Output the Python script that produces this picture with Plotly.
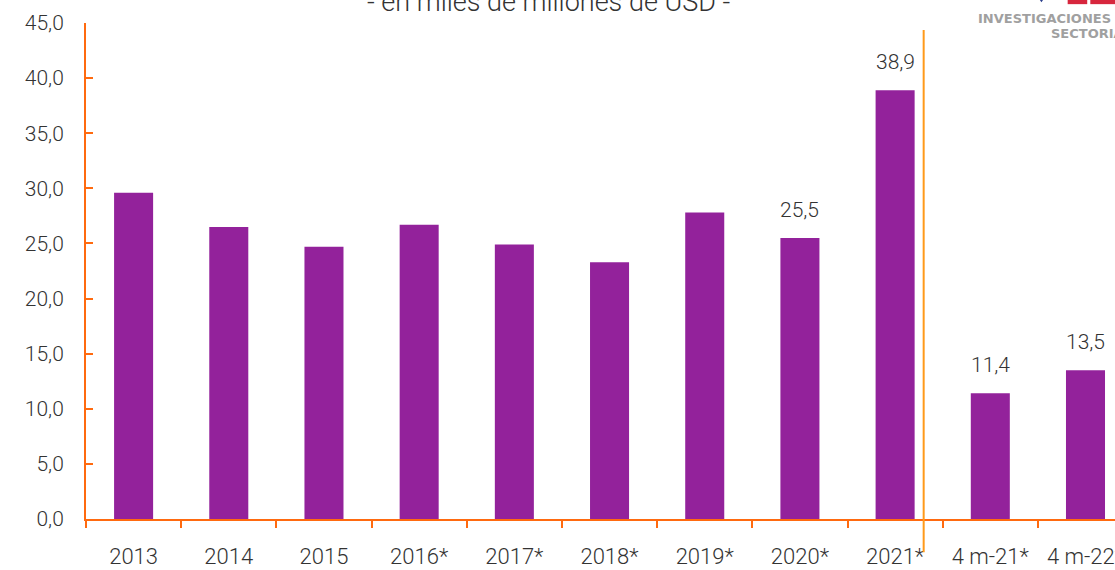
import plotly.graph_objects as go

categories = ["2013", "2014", "2015", "2016*", "2017*", "2018*", "2019*", "2020*", "2021*", "4 m-21*", "4 m-22*"]
values = [29.6, 26.5, 24.7, 26.7, 24.9, 23.3, 27.8, 25.5, 38.9, 11.4, 13.5]
labels = ["", "", "", "", "", "", "", "25,5", "38,9", "11,4", "13,5"]
y_ticks = [0, 5, 10, 15, 20, 25, 30, 35, 40, 45]
title_text = "- en miles de millones de USD -"

BAR = "#93229B"
AXIS = "#FF6A0F"
VLINE = "#FF9A1A"
FONT = "Roboto"
TXT = "#333333"

fig = go.Figure()
fig.add_trace(go.Bar(
    x=list(range(len(categories))), y=values,
    marker=dict(color=BAR, line=dict(width=0)),
    width=0.41, hoverinfo="skip",
))

for i, (v, t) in enumerate(zip(values, labels)):
    if t:
        fig.add_annotation(x=i, y=v, text=t, showarrow=False, yanchor="middle",
                           yshift=28, font=dict(family=FONT, size=21, color=TXT, weight=300))

fig.add_shape(type="line", xref="x", yref="paper", x0=8.3, x1=8.3, y0=-0.067, y1=0.986,
              line=dict(color=VLINE, width=2))

# title (cut at top in reference)
fig.add_annotation(xref="paper", yref="paper", x=0.449, y=1, xanchor="center", yanchor="bottom",
                   yshift=3, text=title_text, showarrow=False,
                   font=dict(family=FONT, size=27, color=TXT, weight=300))

# logo (partially cut)
fig.add_annotation(xref="paper", yref="paper", x=0.998, y=1.010, xanchor="right", yanchor="middle",
                   text="<b>INVESTIGACIONES</b>", showarrow=False,
                   font=dict(family="DejaVu Sans", size=13, color="#A0A0A0"))
fig.add_annotation(xref="paper", yref="paper", x=0.936, y=0.978, xanchor="left", yanchor="middle",
                   text="<b>SECTORIALES</b>", showarrow=False,
                   font=dict(family="DejaVu Sans", size=13, color="#A0A0A0"))
fig.add_shape(type="rect", xref="paper", yref="paper", x0=0.954, x1=0.973, y0=1.038, y1=1.06,
              fillcolor="#D7263D", line=dict(width=0))
fig.add_shape(type="rect", xref="paper", yref="paper", x0=0.976, x1=1.0, y0=1.038, y1=1.06,
              fillcolor="#D7263D", line=dict(width=0))
fig.add_shape(type="path", xref="paper", yref="paper",
              path="M 0.925 1.052 L 0.9285 1.042 L 0.932 1.052 Z",
              fillcolor="#2B3F8C", line=dict(width=0))

fig.update_layout(
    width=1115, height=570,
    margin=dict(l=86, r=0, t=23, b=51, autoexpand=False),
    plot_bgcolor="white", paper_bgcolor="white",
    separators=",.",
    showlegend=False,
    font=dict(family=FONT, color=TXT),
    xaxis=dict(
        range=[-0.5, 10.31], automargin=False,
        tickmode="array", tickvals=list(range(len(categories))), ticktext=categories,
        showgrid=False, zeroline=False,
        showline=True, linecolor=AXIS, linewidth=2,
        ticks="", ticklabelstandoff=17, ticklabeloverflow="allow",
        tickfont=dict(family=FONT, size=22, color=TXT, weight=300),
    ),
    xaxis2=dict(
        overlaying="x", matches="x", range=[-0.5, 10.31], automargin=False,
        tickmode="array", tickvals=[i - 0.5 for i in range(len(categories) + 1)],
        ticks="outside", ticklen=8, tickwidth=2, tickcolor=AXIS,
        showticklabels=False, showgrid=False, zeroline=False, showline=False,
    ),
    yaxis=dict(
        range=[0, 45], tickmode="array", tickvals=y_ticks, tickformat=".1f", automargin=False,
        showgrid=False, zeroline=False,
        showline=True, linecolor=AXIS, linewidth=2,
        ticks="inside", ticklen=7, tickwidth=2, tickcolor=AXIS,
        ticklabelstandoff=16, ticklabeloverflow="allow",
        tickfont=dict(family=FONT, size=21, color=TXT, weight=300),
    ),
)
fig.add_trace(go.Scatter(x=[-0.5], y=[0], xaxis="x2", mode="markers",
                         marker=dict(opacity=0), hoverinfo="skip"))

fig.write_html("out.html", config={"displayModeBar": False},
               post_script="document.body.style.margin='0';document.body.style.overflow='hidden';")
